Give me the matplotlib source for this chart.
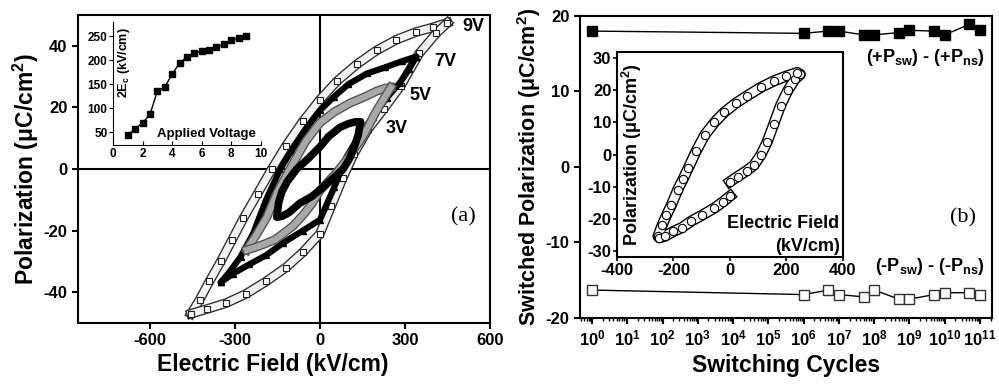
import numpy as np
import matplotlib
matplotlib.use("Agg")
import matplotlib.pyplot as plt
import matplotlib.patheffects as pe
from matplotlib.ticker import LogLocator, FixedLocator, NullFormatter

plt.rcParams['font.family'] = ['Liberation Sans', 'DejaVu Sans']
plt.rcParams['font.weight'] = 'bold'
plt.rcParams['axes.labelweight'] = 'bold'
plt.rcParams['axes.unicode_minus'] = False
plt.rcParams['mathtext.fontset'] = 'custom'
plt.rcParams['mathtext.rm'] = 'Liberation Sans:bold'
plt.rcParams['mathtext.bf'] = 'Liberation Sans:bold'
plt.rcParams['mathtext.it'] = 'Liberation Sans:bold'
plt.rcParams['mathtext.default'] = 'bf'

# ---- (a) P-E loops (E in kV/cm, P in uC/cm2) ----
e9_up = [450, 400, 340, 270, 200, 130, 60, 0, -60, -120, -170, -220, -270, -310, -350, -390, -425, -455]
p9_up = [47.5, 46, 44.5, 42, 38.5, 34, 28.5, 22.5, 15.5, 7.5, 0, -8, -16, -23, -30, -36.5, -42.5, -47]
e9_dn = [-455, -400, -330, -260, -190, -120, -60, 0, 40, 80, 120, 170, 225, 285, 350, 410, 450]
p9_dn = [-47, -45.5, -43.5, -40.5, -36.5, -32, -27, -21, -12, -3, 5, 13, 19.5, 27, 37.5, 44, 47.5]

e7_up = [340, 290, 230, 166, 100, 50, 0, -50, -100, -140, -190, -236, -280, -320, -350]
p7_up = [36.5, 35, 33, 31, 27.5, 23.5, 19, 13, 6, 0, -10, -21, -28.5, -33.5, -36.8]
e7_dn = [-350, -307, -250, -190, -130, -60, 0, 50, 94, 140, 187, 235, 282, 315, 340]
p7_dn = [-36.8, -34, -31, -28, -24, -20, -16.5, -6, 4, 11, 17, 23, 28, 32.5, 36.5]

e5_up = [250, 230, 200, 160, 106, 50, 0, -50, -106, -150, -187, -225, -250, -258]
p5_up = [26.5, 26.2, 25.3, 23.5, 21.4, 18.5, 15, 9, 0, -7.5, -15.6, -21.5, -25, -26.3]
e5_dn = [-258, -230, -200, -160, -130, -95, -60, -30, 0, 30, 60, 90, 117, 140, 160, 180, 200, 230, 250]
p5_dn = [-26.3, -25.5, -24.5, -23, -21, -18.5, -15, -11.5, -7, -4, -1, 2.5, 6, 9, 12, 15.5, 19, 23.5, 26.5]

e3_up = [143, 125, 100, 70, 30, 0, -40, -82, -115, -135, -146, -152]
p3_up = [15.3, 15.3, 14.7, 13.5, 10.5, 7.2, 3.5, 0, -4, -7.5, -11, -15.6]
e3_dn = [-152, -135, -110, -71, -30, 0, 40, 82, 105, 122, 135, 143]
p3_dn = [-15.6, -15.4, -14.2, -11.1, -9, -6.8, -3.5, 0, 3.5, 7.5, 11, 15.3]

# inset (a): coercive field vs applied voltage
volt = [1, 1.5, 2, 2.5, 3, 3.5, 4, 4.5, 5, 5.5, 6, 6.5, 7, 7.5, 8, 8.5, 9]
ec2 = [44, 57, 69, 87, 135, 144, 171, 194, 207, 215, 219, 222, 228, 233, 242, 247, 250]

# ---- (b) switched polarization vs cycles ----
cycles = [1, 1e6, 5e6, 1e7, 5e7, 1e8, 5e8, 1e9, 5e9, 1e10, 5e10, 1e11]
p_pos = [18.0, 17.7, 18.0, 18.0, 17.5, 17.5, 17.8, 18.1, 18.0, 17.5, 18.9, 18.1]
p_neg = [-16.3, -16.9, -16.3, -16.9, -17.2, -16.3, -17.5, -17.5, -16.9, -16.65, -16.65, -16.9]
cycle_ticks = list(range(0, 12))

# inset (b): loop after cycling (start at E=0, up to +Emax, down to -Emax, back to 0)
eb = [0, 27, 60, 85, 110, 132, 155, 179, 205, 230, 249,
      238, 200, 156, 110, 62, 20, -20, -55, -90, -120, -148, -165, -185, -207, -225, -240, -255,
      -250, -230, -200, -170, -137, -100, -55, -25, 0]
pb = [-8.5, -6.9, -5, -3.3, 0, 4, 9.5, 15.3, 20, 23.5, 25,
      25.6, 24.5, 23, 21, 18.4, 16, 13.2, 10, 6, 1, -4.3, -7.5, -11, -15.7, -19, -22, -25.5,
      -26, -25.5, -24, -22.8, -20.8, -19, -16.7, -14.8, -13]

fig = plt.figure(figsize=(9.99, 3.87), dpi=100)

# ================= panel (a) =================
ax = fig.add_axes([0.078, 0.1654, 0.4125, 0.7959])
ax.axhline(0, color='black', lw=1.5, zorder=1)
ax.axvline(0, color='black', lw=1.5, zorder=1)

hollow = [pe.Stroke(linewidth=7, foreground='#333333'), pe.Normal()]
for e, p in [(e9_up, p9_up), (e9_dn, p9_dn)]:
    ax.plot(e, p, color='#f2f2f2', lw=5, path_effects=hollow, zorder=2)
    ax.plot(e, p, ls='none', marker='s', ms=5, mfc='white', mec='#222222', mew=0.8, zorder=3)
for e, p in [(e7_up, p7_up), (e7_dn, p7_dn)]:
    ax.plot(e, p, color='black', lw=4.5, zorder=4, solid_capstyle='round')
    ax.plot(e, p, ls='none', marker='^', ms=5, color='black', zorder=4)
grey = [pe.Stroke(linewidth=6.5, foreground='#555555'), pe.Normal()]
for e, p in [(e5_up, p5_up), (e5_dn, p5_dn)]:
    ax.plot(e, p, color='#a8a8a8', lw=4.5, path_effects=grey, zorder=5)
for e, p in [(e3_up, p3_up), (e3_dn, p3_dn)]:
    ax.plot(e, p, color='black', lw=5.5, zorder=6, solid_capstyle='round')

ax.set_xlim(-854, 600)
ax.set_ylim(-50, 50)
ax.set_xticks([-600, -300, 0, 300, 600])
ax.set_yticks([-40, -20, 0, 20, 40])
ax.tick_params(direction='out', width=1.5, length=4, labelsize=12)
for s in ax.spines.values():
    s.set_linewidth(1.5)
ax.set_xlabel('Electric Field (kV/cm)', fontsize=16.5)
ax.xaxis.set_label_coords(0.473, -0.097)
ax.set_ylabel('Polarization (μC/cm$^{2}$)', fontsize=16.5, labelpad=2)

for txt, x, y in [('9V', 540, 46.2), ('7V', 441, 34.8), ('5V', 353, 24), ('3V', 271, 13.3)]:
    ax.text(x, y, txt, fontsize=13, ha='center', va='center')
ax.text(505, -15.6, '(a)', fontsize=16, family='Liberation Serif', weight='normal',
        ha='center', va='center')

# inset (a)
axi = fig.add_axes([0.1131, 0.6253, 0.148, 0.318])
axi.plot(volt, ec2, color='black', lw=1, marker='s', ms=4)
axi.set_xlim(0, 10)
axi.set_ylim(23, 280)
axi.set_xticks([0, 2, 4, 6, 8, 10])
axi.set_yticks([50, 100, 150, 200, 250])
axi.spines['top'].set_visible(False)
axi.spines['right'].set_visible(False)
axi.patch.set_alpha(0)
axi.tick_params(axis='x', direction='in', length=3, labelsize=8.5, pad=2)
axi.tick_params(axis='y', direction='out', length=3, labelsize=8.5, pad=1)
axi.text(0.075, 0.67, '2E$_{c}$ (kV/cm)', transform=axi.transAxes, rotation=90,
         fontsize=9, ha='center', va='center')
axi.text(6.35, 45, 'Applied Voltage', fontsize=9.5, ha='center', va='center')

# ================= panel (b) =================
bx = fig.add_axes([0.5806, 0.1783, 0.4124, 0.7804])
bx.plot(cycles, p_pos, color='black', lw=1, marker='s', ms=6.5, mfc='black', mec='black')
bx.plot(cycles, p_neg, color='black', lw=1, marker='s', ms=6.5, mfc='white', mec='#333333', mew=1)
bx.set_xscale('log')
bx.set_xlim(10 ** -0.34, 10 ** 11.34)
bx.set_ylim(-20, 20)
bx.set_yticks([-20, -10, 0, 10, 20])
bx.xaxis.set_major_locator(FixedLocator([10.0 ** k for k in cycle_ticks]))
bx.xaxis.set_minor_locator(LogLocator(base=10, subs=np.arange(2, 10), numticks=30))
bx.xaxis.set_minor_formatter(NullFormatter())
bx.set_xticklabels(['10$^{%d}$' % k for k in cycle_ticks])
bx.tick_params(direction='out', width=1.5, length=4, labelsize=12)
bx.tick_params(which='minor', direction='out', width=1, length=2.5)
for s in bx.spines.values():
    s.set_linewidth(1.5)
bx.set_xlabel('Switching Cycles', fontsize=16.5, labelpad=4)
bx.set_ylabel('Switched Polarization (μC/cm$^{2}$)', fontsize=15.5, labelpad=2)
bx.text(0.983, 0.864, '(+P$_{sw}$) - (+P$_{ns}$)', transform=bx.transAxes,
        fontsize=13, ha='right', va='center')
bx.text(0.983, 0.169, '(-P$_{sw}$) - (-P$_{ns}$)', transform=bx.transAxes,
        fontsize=13, ha='right', va='center')
bx.text(0.93, 0.33, '(b)', transform=bx.transAxes, fontsize=16,
        family='Liberation Serif', weight='normal', ha='center', va='center')

# inset (b)
bxi = fig.add_axes([0.6176, 0.3359, 0.2262, 0.5297])
bxi.plot(eb, pb, color='white', lw=6, path_effects=[pe.Stroke(linewidth=8, foreground='black'), pe.Normal()])
bxi.plot(eb, pb, ls='none', marker='o', ms=6, mfc='white', mec='black', mew=0.8)
bxi.set_xlim(-400, 400)
bxi.set_ylim(-32, 32)
bxi.set_xticks([-400, -200, 0, 200, 400])
bxi.set_yticks([-30, -20, -10, 0, 10, 20, 30])
bxi.tick_params(direction='out', width=1.2, length=3, labelsize=12, pad=1)
for s in bxi.spines.values():
    s.set_linewidth(1.5)
bxi.text(0.065, 0.5, 'Polarization (μC/cm$^{2}$)', transform=bxi.transAxes, rotation=90,
         fontsize=13, ha='center', va='center')
bxi.text(0.985, 0.165, 'Electric Field', transform=bxi.transAxes, fontsize=13,
         ha='right', va='center')
bxi.text(0.985, 0.05, '(kV/cm)', transform=bxi.transAxes, fontsize=13,
         ha='right', va='center')

fig.savefig('out.png', dpi=100)
